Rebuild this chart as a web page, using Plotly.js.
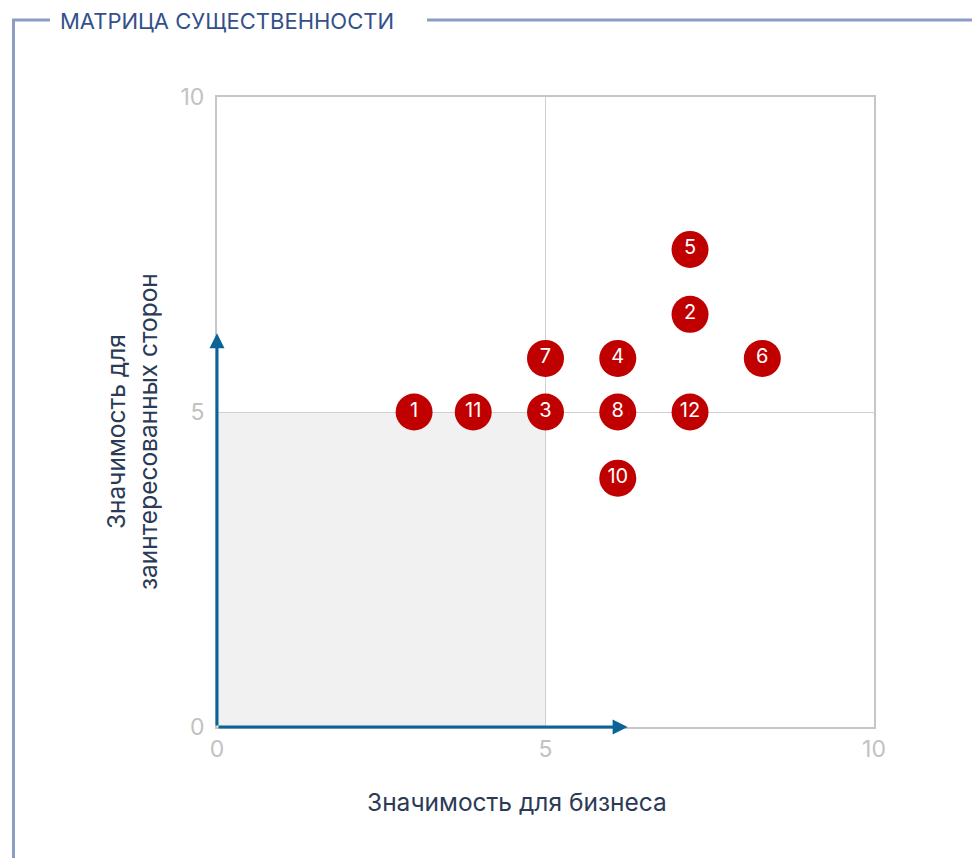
<!DOCTYPE html>
<html>
<head>
<meta charset="utf-8">
<script src="https://cdn.plot.ly/plotly-3.0.1.min.js"></script>
<style>html,body{margin:0;padding:0;background:#fff;}#chart{width:972px;height:858px;}</style>
</head>
<body>
<div id="chart"></div>
<script>
// Data
const labels = ['1','2','3','4','5','6','7','8','10','11','12'];
const business = [3.0, 7.2, 5.0, 6.1, 7.2, 8.3, 5.0, 6.1, 6.1, 3.9, 7.2];
const stakeholders = [5.0, 6.55, 5.0, 5.85, 7.58, 5.85, 5.85, 5.0, 3.95, 5.0, 5.0];
const tickVals = [0, 5, 10];
const tickText = ['0', '5', '10'];
const chartTitle = 'МАТРИЦА СУЩЕСТВЕННОСТИ';
const xTitle = 'Значимость для бизнеса';
const yTitle = 'Значимость для<br>заинтересованных сторон';
const arrowLen = 6.25;

const FONT = 'Inter, "Noto Sans", sans-serif';
const frameColor = '#8b9dc3';
const blue = '#0a6496';

// plot area in pixels: x 217..874, y 97..727
const L = 217, R = 98, T = 97, B = 131;
const W = 972 - L - R, H = 858 - T - B;
const px = v => (v - L) / W;
const py = v => (858 - B - v) / H;

const trace = {
  type: 'scatter',
  mode: 'markers+text',
  x: business,
  y: stakeholders,
  text: labels,
  textposition: 'middle center',
  textfont: {family: FONT, size: 20, color: '#ffffff'},
  marker: {size: 37, color: '#c00000', line: {width: 0}},
  hoverinfo: 'skip',
  cliponaxis: false
};

const layout = {
  width: 972,
  height: 858,
  margin: {l: L, r: R, t: T, b: B},
  paper_bgcolor: '#ffffff',
  plot_bgcolor: '#ffffff',
  showlegend: false,
  title: {
    text: chartTitle,
    font: {family: FONT, size: 22, color: '#34508a'},
    xref: 'container', yref: 'container',
    x: 60 / 972, xanchor: 'left',
    y: 1 - 21 / 858, yanchor: 'middle'
  },
  xaxis: {
    range: [0, 10],
    tickvals: tickVals, ticktext: tickText,
    showgrid: true, gridcolor: '#cfcfcf', gridwidth: 1,
    zeroline: false,
    showline: true, mirror: true, linecolor: '#c6c6c6', linewidth: 2,
    ticks: '',
    tickfont: {family: FONT, size: 23, color: '#c2c2c2'},
    fixedrange: true
  },
  yaxis: {
    range: [0, 10],
    tickvals: tickVals, ticktext: tickText,
    showgrid: true, gridcolor: '#cfcfcf', gridwidth: 1,
    zeroline: false,
    showline: true, mirror: true, linecolor: '#c6c6c6', linewidth: 2,
    ticks: '',
    ticklabelstandoff: 6,
    tickfont: {family: FONT, size: 23, color: '#c2c2c2'},
    fixedrange: true
  },
  shapes: [
    {type: 'rect', xref: 'x', yref: 'y', x0: 0, x1: 5, y0: 0, y1: 5,
     fillcolor: '#f1f1f1', line: {width: 0}, layer: 'below'},
    // frame
    {type: 'line', xref: 'paper', yref: 'paper', x0: px(13.5), x1: px(13.5), y0: py(20), y1: py(860),
     line: {color: frameColor, width: 3}},
    {type: 'line', xref: 'paper', yref: 'paper', x0: px(12), x1: px(50), y0: py(20), y1: py(20),
     line: {color: frameColor, width: 3}},
    {type: 'line', xref: 'paper', yref: 'paper', x0: px(427), x1: px(975), y0: py(20), y1: py(20),
     line: {color: frameColor, width: 3}}
  ],
  annotations: [
    {xref: 'x', yref: 'y', axref: 'x', ayref: 'y', x: arrowLen, y: 0, ax: 0, ay: 0,
     text: '', showarrow: true, arrowhead: 2, arrowsize: 1, arrowwidth: 3, arrowcolor: blue, standoff: 0},
    {xref: 'x', yref: 'y', axref: 'x', ayref: 'y', x: 0, y: arrowLen, ax: 0, ay: 0,
     text: '', showarrow: true, arrowhead: 2, arrowsize: 1, arrowwidth: 3, arrowcolor: blue, standoff: 0},
    {xref: 'paper', yref: 'paper', x: px(517), y: py(802), xanchor: 'center', yanchor: 'middle',
     text: xTitle, showarrow: false, font: {family: FONT, size: 24.5, color: '#2b3a55'}},
    {xref: 'paper', yref: 'paper', x: px(132), y: py(432), xanchor: 'center', yanchor: 'middle',
     text: yTitle, textangle: -90, showarrow: false, font: {family: FONT, size: 24.5, color: '#2b3a55'}}
  ]
};

Plotly.newPlot('chart', [trace], layout, {displayModeBar: false, staticPlot: true});
</script>
</body>
</html>
